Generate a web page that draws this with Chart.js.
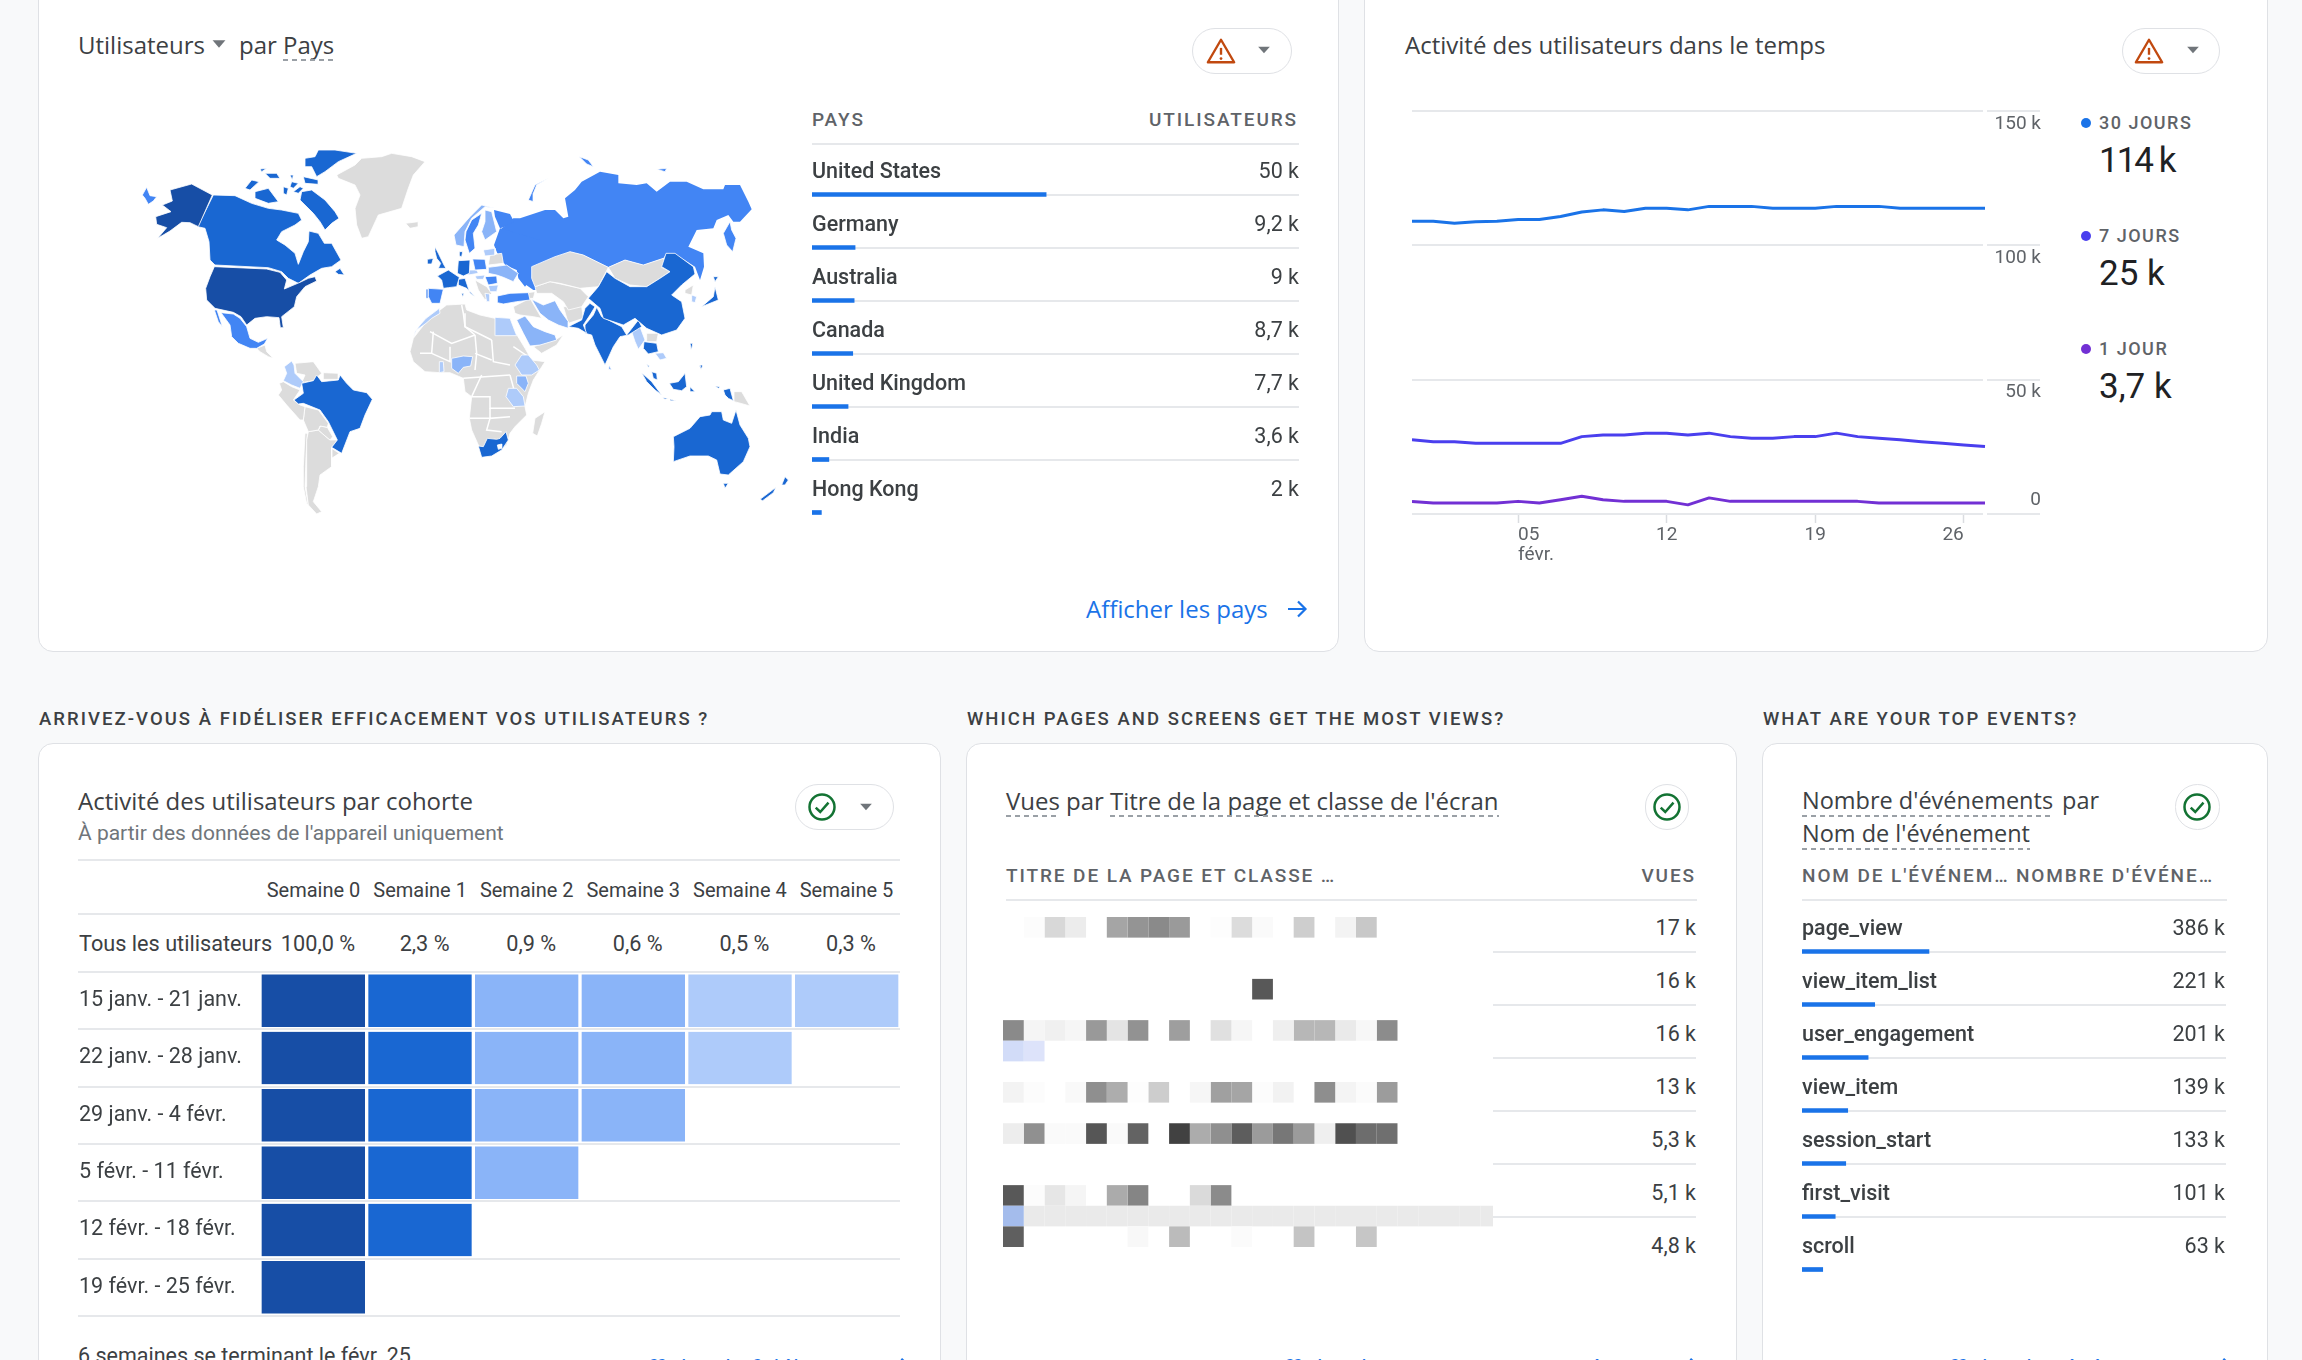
<!DOCTYPE html>
<html lang="fr">
<head>
<meta charset="utf-8">
<title>Rapports</title>
<script src="https://cdn.jsdelivr.net/npm/chart.js@4"></script>
<style>
  html, body { margin: 0; padding: 0; }
  body { position: relative; width: 2302px; height: 1360px; overflow: hidden; background: #f8f9fa; font-family: Roboto, sans-serif; color: #3c4043; }
  .card { position: absolute; box-sizing: border-box; background: #fff; border: 1.5px solid #dfe1e5; border-radius: 15px; }
  .txt { position: absolute; white-space: nowrap; line-height: 1; transform: translateY(-50%); }
  .rule { position: absolute; height: 2px; background: #e6e8eb; }
  .dash { position: absolute; height: 2px; background: repeating-linear-gradient(90deg, #9aa0a6 0 5px, transparent 5px 9px); }
  .pill { position: absolute; box-sizing: border-box; background: #fff; border: 1.5px solid #dfe1e5; border-radius: 24px; }
  canvas { position: absolute; }
  svg { position: absolute; }
</style>
</head>
<body>
<script>
// pays
const countries = ["United States", "Germany", "Australia", "Canada", "United Kingdom", "India", "Hong Kong"];
const countryUsers = [50, 9.2, 9, 8.7, 7.7, 3.6, 2];
const countryUserLabels = ["50 k", "9,2 k", "9 k", "8,7 k", "7,7 k", "3,6 k", "2 k"];
const countryScaleMax = 104;

// activite dans le temps
const days = ["31 janv.", "1 févr.", "2 févr.", "3 févr.", "4 févr.", "5 févr.", "6 févr.", "7 févr.", "8 févr.", "9 févr.", "10 févr.", "11 févr.", "12 févr.", "13 févr.", "14 févr.", "15 févr.", "16 févr.", "17 févr.", "18 févr.", "19 févr.", "20 févr.", "21 févr.", "22 févr.", "23 févr.", "24 févr.", "25 févr.", "26 févr.", "27 févr."];
const users30 = [109000, 109000, 108200, 108800, 109000, 109600, 109600, 110700, 112400, 113200, 112600, 113800, 113800, 113200, 114500, 114500, 114500, 113800, 113800, 113800, 114500, 114500, 114500, 113800, 113800, 113800, 113800, 113800];
const users7 = [27600, 26900, 26900, 26300, 26300, 26300, 26300, 26300, 28800, 29400, 29400, 30100, 30100, 29400, 30100, 28800, 28200, 28200, 28800, 28800, 30100, 28800, 28200, 27600, 26900, 26300, 25700, 25100];
const users1 = [4700, 4100, 4100, 4100, 4100, 4700, 4100, 5300, 6600, 5300, 4700, 4700, 4700, 3400, 6000, 4700, 4700, 4700, 4700, 4700, 4700, 4700, 4100, 4100, 4100, 4100, 4100, 4100];
const activityTicks = [0, 50000, 100000, 150000];
const activityTickLabels = ["0", "50 k", "100 k", "150 k"];
const dayTickIndexes = [5, 12, 19, 26];
const dayTickLabels = [["05", "févr."], "12", "19", "26"];
const legendNames = ["30 JOURS", "7 JOURS", "1 JOUR"];
const legendValues = ["114 k", "25 k", "3,7 k"];

// cohortes
const weeks = ["Semaine 0", "Semaine 1", "Semaine 2", "Semaine 3", "Semaine 4", "Semaine 5"];
const allUsersRetention = ["100,0 %", "2,3 %", "0,9 %", "0,6 %", "0,5 %", "0,3 %"];
const cohortLabels = ["15 janv. - 21 janv.", "22 janv. - 28 janv.", "29 janv. - 4 févr.", "5 févr. - 11 févr.", "12 févr. - 18 févr.", "19 févr. - 25 févr."];
const cohort0 = [100, 2.4, 0.9, 0.7, 0.4, 0.3];
const cohort1 = [100, 2.3, 0.9, 0.7, 0.4];
const cohort2 = [100, 2.3, 0.9, 0.7];
const cohort3 = [100, 2.2, 0.9];
const cohort4 = [100, 2.2];
const cohort5 = [100];

// vues par page
const viewLabels = ["17 k", "16 k", "16 k", "13 k", "5,3 k", "5,1 k", "4,8 k"];

// zone floutee : niveau de gris par case, 0 = vide
const mosaic0 = [0, 252, 216, 236, 0, 165, 148, 138, 154, 0, 253, 220, 250, 0, 206, 0, 243, 200];
const mosaic3 = [0, 0, 0, 0, 0, 0, 0, 0, 0, 0, 0, 0, 88];
const mosaic5 = [138, 245, 240, 246, 153, 228, 146, 0, 158, 0, 224, 246, 0, 239, 183, 183, 234, 247, 140];
const mosaic6 = [220, 227];
const mosaic8 = [243, 252, 0, 249, 143, 173, 253, 205, 0, 246, 160, 165, 252, 242, 0, 142, 244, 251, 156];
const mosaic10 = [237, 144, 250, 250, 86, 250, 99, 0, 65, 172, 143, 93, 155, 119, 155, 239, 80, 109, 111];
const mosaic13 = [88, 252, 230, 245, 0, 171, 133, 0, 0, 218, 139];
const mosaic14 = [188, 234, 234, 234, 234, 234, 234, 234, 234, 234, 234, 234, 234, 234, 234, 234, 234, 234, 234, 234, 234, 234, 234, 234];
const mosaic15 = [95, 0, 0, 0, 0, 0, 248, 0, 187, 0, 0, 251, 0, 0, 196, 0, 0, 198];
const mosaicRows = [mosaic0, [], [], mosaic3, [], mosaic5, mosaic6, [], mosaic8, [], mosaic10, [], [], mosaic13, mosaic14, mosaic15];

// evenements
const eventNames = ["page_view", "view_item_list", "user_engagement", "view_item", "session_start", "first_visit", "scroll"];
const eventCounts = [386, 221, 201, 139, 133, 101, 63];
const eventLabels = ["386 k", "221 k", "201 k", "139 k", "133 k", "101 k", "63 k"];
const eventScaleMax = 1289;

// carte : contours, [niveau, x, y, x, y...]
// niveau 0 sans donnees, 1 frontiere, 2 a 6 du plus clair au plus fonce, 7 trou, 8 Russie (sous les voisins)
const shapesAmericas = [
  [6, 232,150, 190,245, 165,233, 140,232, 105,258, 68,280, 95,248, 65,238, 62,215, 108,200, 82,180, 112,168, 105,135, 170,117],
  [4, 35,127, 45,152, 65,155, 55,168, 40,178, 30,160, 22,150],
  [5, 235,150, 300,152, 350,175, 400,190, 440,195, 490,205, 500,225, 480,240, 440,260, 425,285, 450,300, 480,325, 490,358, 505,320, 520,290, 522,258, 550,265, 568,295, 590,295, 618,345, 590,365, 560,370, 525,390, 490,415, 460,400, 440,380, 400,368, 240,360, 225,345, 222,290, 210,250, 188,245],
  [5, 600,380, 615,370, 628,390, 610,388],
  [5, 500,140, 530,135, 570,165, 600,200, 612,220, 590,235, 570,255, 555,230, 535,205, 510,180, 495,165],
  [5, 510,40, 540,35, 550,15, 600,15, 665,25, 610,50, 570,80, 545,95, 530,65, 510,65],
  [5, 360,140, 400,130, 430,170, 400,175, 360,160],
  [5, 330,130, 350,105, 372,110, 345,135],
  [5, 375,72, 395,70, 380,80],
  [5, 390,85, 425,85, 435,100, 405,100],
  [5, 470,110, 490,115, 475,130, 465,125],
  [5, 505,95, 550,105, 550,118, 510,115],
  [5, 465,90, 475,90, 472,105],
  [5, 445,125, 460,130, 455,150, 445,145],
  [5, 475,140, 495,125, 505,130, 490,145],
  [6, 238,365, 395,372, 435,382, 455,405, 448,432, 495,412, 520,400, 540,395, 545,408, 510,425, 485,455, 478,485, 440,515, 445,548, 436,548, 432,518, 395,515, 360,520, 335,540, 318,515, 295,502, 240,490, 215,465, 212,430, 225,395],
  [4, 258,503, 295,507, 315,520, 335,545, 345,580, 370,592, 398,580, 388,597, 365,610, 345,610, 310,595, 290,575, 285,540],
  [4, 238,495, 246,495, 262,545, 250,530],
  [0, 365,610, 390,600, 395,620, 415,640, 400,635, 375,620],
  [0, 605,90, 660,60, 680,40, 740,35, 770,25, 830,35, 870,50, 835,90, 820,130, 800,190, 730,210, 700,275, 680,280, 665,240, 660,190, 675,150, 660,120, 610,100],
  [0, 812,235, 850,230, 850,245, 825,250]
];
const shapesSouthAmerica = [
  [2, 125,63, 132,75, 135,100, 160,125, 150,145, 125,135, 100,122, 110,100, 103,80],
  [5, 132,180, 160,160, 155,130, 190,122, 200,105, 215,125, 265,120, 270,105, 290,130, 310,150, 350,158, 367,178, 345,225, 330,265, 300,275, 275,340, 245,322, 262,300, 235,245, 210,210, 160,190, 145,192],
  [0, 135,70, 190,65, 215,100, 190,122, 155,128, 165,105, 140,100],
  [0, 220,98, 265,100, 265,118, 220,118],
  [0, 88,130, 100,125, 125,140, 150,150, 130,180, 150,195, 165,200, 160,240, 150,240, 110,195, 85,165, 95,150],
  [0, 165,200, 205,210, 235,250, 232,262, 210,258, 205,270, 175,275, 160,240],
  [0, 205,270, 212,258, 232,262, 248,290, 240,300, 222,285],
  [0, 175,275, 205,270, 222,285, 240,300, 262,300, 245,322, 245,380, 210,405, 205,440, 190,485, 215,515, 200,522, 175,495, 168,440, 170,350, 170,300],
  [0, 165,280, 172,280, 168,350, 165,440, 175,495, 170,490, 160,440, 160,380],
  [0, 245,325, 268,340, 245,355]
];
const shapesEurope = [
  [5, 45,170, 55,190, 72,225, 78,235, 55,235, 62,220, 50,205, 45,185],
  [5, 22,208, 40,205, 35,222, 22,222],
  [5, 85,240, 118,262, 110,290, 85,293, 70,295, 65,270, 52,258],
  [5, 115,212, 150,210, 148,250, 130,258, 112,250],
  [4, 25,295, 70,298, 60,340, 35,340, 25,320],
  [4, 18,297, 25,297, 25,325, 18,325],
  [5, 115,268, 135,265, 150,310, 165,320, 160,315, 140,295, 115,285],
  [5, 125,310, 132,310, 128,322],
  [4, 158,207, 195,208, 200,238, 165,240],
  [3, 102,135, 150,80, 185,45, 225,55, 195,50, 155,85, 135,125, 132,170, 108,165],
  [4, 138,125, 155,90, 185,70, 175,105, 160,130, 165,175, 148,190, 135,150],
  [3, 195,60, 215,65, 230,125, 195,150, 185,125, 195,95],
  [5, 118,185, 128,185, 125,200, 118,198],
  [2, 140,240, 170,240, 175,250, 145,255],
  [2, 165,258, 195,255, 190,268, 170,268],
  [4, 195,260, 230,258, 232,280, 205,285],
  [3, 205,232, 260,225, 295,250, 280,275, 250,262, 230,255, 205,250],
  [0, 210,195, 245,190, 250,220, 205,225],
  [2, 190,180, 225,175, 225,195, 195,198],
  [0, 165,270, 200,290, 215,310, 195,330, 175,300],
  [2, 195,310, 210,312, 210,335, 200,335],
  [2, 205,287, 235,285, 230,305, 210,305],
  [4, 232,318, 270,310, 325,308, 330,330, 290,335, 250,342, 232,338],
  [8, 240,115, 222,165, 232,190, 250,205, 255,225, 290,240, 305,275, 340,300, 360,300, 360,150],
  [8, 222,60, 270,72, 282,95, 250,112, 240,115, 225,80]
];
const shapesAfrica = [
  [0, 75,100, 90,80, 120,60, 140,45, 195,42, 200,60, 240,75, 285,85, 330,85, 345,125, 375,175, 395,210, 435,215, 400,270, 385,310, 375,350, 380,375, 345,410, 330,430, 320,465, 285,490, 245,500, 235,465, 215,420, 208,385, 215,320, 195,305, 190,265, 150,248, 120,248, 75,245, 40,215, 30,185, 40,145],
  [0, 435,365, 425,400, 412,438, 398,430, 405,385],
  [0, 400,170, 465,150, 490,135, 470,165, 425,190],
  [1, 185,45, 190,70, 195,110, 225,135],
  [1, 195,70, 195,110, 275,150],
  [1, 225,135, 230,190, 225,240],
  [1, 275,150, 280,215, 330,225],
  [1, 90,125, 155,160, 225,135],
  [1, 100,125, 95,190, 60,190],
  [1, 95,190, 150,215, 150,170],
  [1, 225,190, 275,210],
  [1, 190,265, 330,255],
  [1, 245,255, 215,320],
  [1, 215,320, 270,320, 270,355, 345,355],
  [1, 208,385, 270,385, 260,420, 305,425],
  [1, 270,355, 270,385, 330,380],
  [1, 330,255, 345,310],
  [1, 340,170, 400,210],
  [2, 78,85, 118,55, 120,70, 95,85, 78,100, 50,120, 40,142, 45,125, 60,105],
  [2, 285,82, 330,85, 350,137, 287,137],
  [3, 350,90, 375,78, 400,110, 435,125, 465,135, 470,150, 420,165, 390,168, 370,130],
  [3, 395,28, 430,45, 465,32, 480,60, 505,95, 505,115, 475,105, 445,90, 420,70],
  [3, 155,205, 190,198, 218,200, 212,228, 190,232, 175,250, 155,235],
  [2, 118,215, 130,215, 132,245, 118,248],
  [2, 365,195, 385,195, 410,225, 418,240, 395,255, 365,255, 345,225],
  [3, 350,258, 378,258, 385,280, 375,305, 350,280],
  [2, 325,295, 350,295, 370,320, 375,348, 340,350, 318,320],
  [5, 262,445, 290,448, 300,445, 318,425, 325,450, 305,480, 275,498, 245,502, 235,468, 250,470],
  [7, 292,465, 305,462, 305,475, 295,478]
];
const shapesAsia = [
  [8, 0,240, 40,205, 60,205, 135,180, 165,180, 190,205, 205,200, 195,145, 225,120, 245,95, 300,65, 355,75, 355,100, 410,105, 440,100, 470,125, 510,95, 560,95, 610,118, 670,118, 675,105, 720,105, 745,155, 755,178, 720,215, 700,215, 685,195, 650,210, 640,235, 590,240, 565,290, 610,310, 612,350, 600,390, 585,350, 530,315, 500,310, 490,325, 430,345, 375,330, 325,352, 250,315, 210,305, 165,325, 100,350, 95,385, 75,410, 55,385, 50,355, 0,335],
  [4, 670,250, 690,215, 695,240, 708,265, 698,305, 680,285],
  [4, 85,150, 105,105, 145,85, 110,105, 100,130, 100,155],
  [4, 238,20, 265,30, 280,50, 260,42],
  [4, 470,58, 500,55, 495,65],
  [5, 320,365, 345,385, 390,410, 440,410, 480,385, 510,365, 485,350, 498,310, 525,310, 580,350, 585,372, 545,405, 515,435, 545,455, 555,505, 530,540, 485,555, 440,535, 405,505, 370,525, 310,505, 300,475, 265,445, 295,410],
  [0, 325,352, 375,330, 430,345, 490,325, 498,345, 485,352, 510,365, 480,385, 440,410, 390,405, 345,385],
  [0, 95,350, 165,320, 210,305, 250,315, 325,352, 295,410, 240,415, 180,400, 150,395, 105,410, 95,385],
  [0, 105,410, 150,395, 240,415, 265,440, 245,470, 205,480, 190,455, 155,430, 110,430],
  [5, 205,530, 245,510, 255,475, 270,460, 285,470, 270,495, 250,525, 260,550, 235,535],
  [5, 290,472, 305,500, 365,530, 380,555, 415,510, 425,530, 385,555, 360,560, 340,590, 315,645, 285,585, 275,555, 255,550, 255,525, 280,495],
  [3, 328,645, 335,660, 325,658],
  [2, 395,545, 420,530, 435,570, 415,598, 405,575],
  [5, 432,575, 470,580, 475,605, 445,612, 430,595],
  [0, 440,550, 475,550, 470,575, 440,575],
  [2, 465,610, 490,608, 500,625, 480,630],
  [5, 640,380, 655,380, 645,395],
  [5, 645,410, 655,450, 625,462, 605,470, 640,440],
  [2, 575,435, 590,440, 585,458, 575,455],
  [0, 555,420, 580,405, 575,435, 555,430],
  [5, 570,580, 578,580, 575,600],
  [5, 600,645, 608,645, 605,658],
  [0, 40,470, 90,445, 125,505, 100,500, 60,495, 45,490],
  [0, 190,470, 245,470, 250,505, 205,520],
  [0, 70,430, 105,425, 100,445, 75,445]
];
const shapesOceania = [
  [5, 190,320, 240,295, 270,260, 300,255, 305,245, 335,245, 340,270, 365,280, 378,240, 390,285, 415,325, 420,350, 400,395, 355,435, 330,432, 320,390, 295,378, 240,378, 190,395, 192,350],
  [5, 340,460, 355,460, 345,475],
  [5, 450,508, 498,472, 490,488, 458,512],
  [5, 515,465, 525,440, 535,450, 525,465],
  [5, 95,128, 125,155, 155,195, 135,180, 110,155],
  [5, 158,203, 175,205, 165,208],
  [5, 180,207, 198,213, 180,212],
  [5, 178,160, 205,155, 225,130, 230,170, 215,182, 190,178],
  [5, 240,170, 255,185, 240,185],
  [5, 315,168, 330,170, 325,175],
  [5, 340,180, 360,175, 370,212, 355,205, 345,195],
  [0, 372,185, 395,185, 420,228, 385,218, 372,215],
  [5, 240,40, 247,45, 243,60],
  [5, 268,105, 278,105, 272,118],
  [5, 125,125, 140,130, 142,150, 130,145],
  [5, 110,102, 118,108, 115,112]
];
const mapRegions = [
  [shapesAmericas, 135, 145],
  [shapesSouthAmerica, 250, 340],
  [shapesEurope, 420, 190],
  [shapesAfrica, 400, 290],
  [shapesAsia, 500, 150],
  [shapesOceania, 610, 330]
];
const mapColors = ["#dcdcdc", "#ffffff", "#aecbfa", "#8ab4f8", "#4285f4", "#1967d2", "#174ea6", "#ffffff", "#4285f4"];

const blue = "#1a73e8";
const lineBlue = "#1a73e8";
const lineIndigo = "#4a3fee";
const linePurple = "#7230d4";
const ruleColor = "#e6e8eb";
const tickColor = "#5f6368";

Chart.defaults.font.family = "Roboto, sans-serif";
Chart.defaults.animation = false;
Chart.defaults.responsive = false;
Chart.defaults.devicePixelRatio = 1;
Chart.defaults.plugins.legend.display = false;
Chart.defaults.plugins.tooltip.enabled = false;

function addCanvas(left, top, width, height) {
  const canvas = document.createElement("canvas");
  canvas.width = width;
  canvas.height = height;
  canvas.style.left = left + "px";
  canvas.style.top = top + "px";
  document.body.appendChild(canvas);
  return canvas;
}

function put(text, x, y, size, color, opts) {
  opts = opts || {};
  const el = document.createElement("div");
  el.className = "txt";
  el.textContent = text;
  el.style.top = y + "px";
  if (opts.right) el.style.right = (2302 - x) + "px";
  else el.style.left = x + "px";
  if (opts.center) el.style.transform = "translate(-50%, -50%)";
  el.style.fontSize = size + "px";
  el.style.color = color;
  if (opts.weight) el.style.fontWeight = opts.weight;
  if (opts.spacing) el.style.letterSpacing = opts.spacing + "px";
  if (opts.font) el.style.fontFamily = opts.font;
  document.body.appendChild(el);
}

function box(className, left, top, width, height) {
  const el = document.createElement("div");
  el.className = className;
  el.style.left = left + "px";
  el.style.top = top + "px";
  el.style.width = width + "px";
  if (height) el.style.height = height + "px";
  document.body.appendChild(el);
}

function rule(x1, x2, y) { box("rule", x1, y - 1, x2 - x1); }
function dash(x1, x2, y) { box("dash", x1, y - 1, x2 - x1); }

function drawSvg(left, top, size, inner) {
  document.body.insertAdjacentHTML("beforeend", '<svg style="left:' + left + 'px;top:' + top + 'px" width="' + size + '" height="' + size + '" viewBox="0 0 24 24" fill="none">' + inner + "</svg>");
}
const warnIcon = '<path d="M12 3 L22.5 21 H1.5 Z" stroke="#c1490f" stroke-width="1.9" stroke-linejoin="round"/><path d="M12 9.5 V15" stroke="#c1490f" stroke-width="1.9"/><circle cx="12" cy="18" r="1.1" fill="#c1490f"/>';
const okIcon = '<circle cx="12" cy="12" r="10" stroke="#137333" stroke-width="2"/><path d="M7 12.5 L10.6 16 L17.2 8.5" stroke="#137333" stroke-width="2"/>';
const caretIcon = '<path d="M5 8 H19 L12 16 Z" fill="#70757a"/>';
const arrowIcon = '<path d="M3 12 H20 M13 4.5 L20.5 12 L13 19.5" stroke="#1a73e8" stroke-width="2.2"/>';
const chevronIcon = '<path d="M8 4 L16 12 L8 20" stroke="#1a73e8" stroke-width="2.4"/>';

// sans ca l'axe vertical garde une marge pour ses libelles et tasse les lignes
function noScalePadding(axis) {
  axis.paddingTop = 0;
  axis.paddingBottom = 0;
  axis.paddingLeft = 0;
  axis.paddingRight = 0;
}

// cartes de fond
box("card", 38, -40, 1301, 692);
box("card", 1364, -40, 904, 692);
box("card", 38, 743, 903, 700);
box("card", 966, 743, 771, 700);
box("card", 1762, 743, 506, 700);

// carte Utilisateurs par Pays
const titleFont = "'Open Sans', Roboto, sans-serif";
const titleSize = 24;
put("Utilisateurs", 78, 45, titleSize, "#3c4043", { font: titleFont });
drawSvg(208, 33, 22, caretIcon);
put("par", 239, 45, titleSize, "#3c4043", { font: titleFont });
put("Pays", 283, 45, titleSize, "#3c4043", { font: titleFont });
dash(283, 334, 60);
box("pill", 1192, 28, 100, 46);
drawSvg(1206, 36, 30, warnIcon);
drawSvg(1254, 40, 20, caretIcon);

const mapDatasets = [];
mapRegions.forEach(function (region) {
  region[0].forEach(function (shape) {
    const points = [];
    for (let i = 1; i < shape.length; i += 2) {
      points.push({ x: region[1] + shape[i] / 3, y: region[2] + shape[i + 1] / 3 });
    }
    const isBorder = shape[0] === 1;
    if (!isBorder) points.push(points[0]);
    mapDatasets.push({
      level: shape[0] === 8 ? -1 : shape[0],
      data: points,
      borderColor: "#ffffff",
      borderWidth: isBorder ? 1.5 : (shape[0] === 8 ? 0 : 0.8),
      backgroundColor: mapColors[shape[0]],
      fill: isBorder ? false : "shape",
      pointRadius: 0,
      tension: 0
    });
  });
});
// Chart.js dessine le premier dataset en dernier
mapDatasets.sort(function (a, b) { return b.level - a.level; });

new Chart(addCanvas(130, 140, 670, 400), {
  type: "line",
  data: { datasets: mapDatasets },
  options: {
    layout: { padding: 0 },
    scales: {
      x: { type: "linear", display: false, min: 130, max: 800 },
      y: { type: "linear", display: false, min: 140, max: 540, reverse: true }
    }
  }
});

// tableau pays
const headStyle = { weight: 500, spacing: 1.9 };
put("PAYS", 812, 119, 19, tickColor, headStyle);
put("UTILISATEURS", 1298, 119, 19, tickColor, { weight: 500, spacing: 1.9, right: true });
rule(812, 1299, 144);

function rowBars(left, top, width, labels, values, max, rowHeight) {
  return new Chart(addCanvas(left, top, width, labels.length * rowHeight), {
    type: "bar",
    data: {
      labels: labels,
      datasets: [{ data: values, backgroundColor: blue, barThickness: 4 }]
    },
    options: {
      indexAxis: "y",
      layout: { padding: 0 },
      scales: {
        x: { display: false, min: 0, max: max },
        y: {
          border: { display: false },
          ticks: { display: false },
          grid: {
            offset: false,
            drawTicks: false,
            lineWidth: 2,
            color: function (ctx) { return ctx.index === labels.length - 1 ? "rgba(0,0,0,0)" : ruleColor; }
          }
        }
      }
    }
  });
}

rowBars(812, 168, 487, countries, countryUsers, countryScaleMax, 53);
countries.forEach(function (name, i) {
  put(name, 812, 171 + i * 53, 21.5, "#3c4043", { weight: 500 });
  put(countryUserLabels[i], 1299, 171 + i * 53, 21.5, "#3c4043", { right: true });
});
put("Afficher les pays", 1086, 609, 24, blue, { font: titleFont });
drawSvg(1285, 597, 24, arrowIcon);

// carte Activite des utilisateurs
put("Activité des utilisateurs dans le temps", 1405, 45, titleSize, "#3c4043", { font: titleFont });
box("pill", 2122, 28, 98, 46);
drawSvg(2134, 36, 30, warnIcon);
drawSvg(2183, 40, 20, caretIcon);

const activitySeries = [
  [users30, lineBlue],
  [users7, lineIndigo],
  [users1, linePurple]
];

new Chart(addCanvas(1412, 105, 630, 465), {
  type: "line",
  data: {
    labels: days,
    datasets: activitySeries.map(function (s) {
      return { data: s[0], borderColor: s[1], borderWidth: 3, pointRadius: 0, tension: 0, borderJoinStyle: "round" };
    })
  },
  options: {
    layout: { padding: { top: 6 }, autoPadding: false },
    scales: {
      x: {
        afterBuildTicks: function (axis) {
          axis.ticks = dayTickIndexes.map(function (v) { return { value: v }; });
        },
        afterFit: function (axis) {
          axis.height = 56;
          noScalePadding(axis);
        },
        border: { display: false },
        grid: { drawOnChartArea: false, tickLength: 9, tickColor: "#dadce0", tickWidth: 1.5 },
        ticks: {
          autoSkip: false,
          maxRotation: 0,
          padding: 2,
          color: tickColor,
          font: { size: 19, lineHeight: 1.05 },
          callback: function (value) { return dayTickLabels[dayTickIndexes.indexOf(value)]; }
        }
      },
      y: {
        position: "right",
        min: 0,
        max: 150000,
        afterBuildTicks: function (axis) {
          axis.ticks = activityTicks.map(function (v) { return { value: v }; });
        },
        afterFit: function (axis) {
          axis.width = 57;
          noScalePadding(axis);
        },
        border: { display: true, color: "#ffffff", width: 4 },
        grid: { color: "#e6e8eb", lineWidth: 2, tickLength: 55, tickColor: "#e6e8eb" },
        ticks: {
          padding: 0,
          color: tickColor,
          font: { size: 19 },
          callback: function (value) { return activityTickLabels[activityTicks.indexOf(value)]; }
        }
      }
    }
  },
  plugins: [{
    id: "tickPlacement",
    afterUpdate: function (chart) {
      const yScale = chart.scales.y;
      yScale.getLabelItems().forEach(function (item) {
        item.options.textAlign = "right";
        item.options.translation[0] = yScale.right - 1;
        item.options.translation[1] += item.label === "0" ? -14 : 13;
      });
      const xItems = chart.scales.x.getLabelItems();
      xItems[0].options.textAlign = "left";
      xItems[3].options.textAlign = "right";
    }
  }]
});

const legendColors = [lineBlue, lineIndigo, linePurple];
const legendTops = [123, 236, 349];
const legendValueSpacing = [-2, 0, 0];
legendNames.forEach(function (name, i) {
  const dot = document.createElement("div");
  dot.style.cssText = "position:absolute;width:10px;height:10px;border-radius:50%;left:2081px;top:" + (legendTops[i] - 5) + "px;background:" + legendColors[i];
  document.body.appendChild(dot);
  put(name, 2099, legendTops[i], 18, tickColor, { weight: 500, spacing: 1.5 });
  put(legendValues[i], 2099, legendTops[i] + 37, 35, "#202124", { spacing: legendValueSpacing[i] });
});

// titres de section
const sectionStyle = { weight: 500, spacing: 2.05 };
put("ARRIVEZ-VOUS À FIDÉLISER EFFICACEMENT VOS UTILISATEURS ?", 39, 719, 18.5, "#3c4043", sectionStyle);
put("WHICH PAGES AND SCREENS GET THE MOST VIEWS?", 967, 719, 18.5, "#3c4043", sectionStyle);
put("WHAT ARE YOUR TOP EVENTS?", 1763, 719, 18.5, "#3c4043", sectionStyle);

// cohortes
put("Activité des utilisateurs par cohorte", 78, 801, titleSize, "#3c4043", { font: titleFont });
put("À partir des données de l'appareil uniquement", 78, 833, 21, "#70757a");
box("pill", 795, 784, 99, 46);
drawSvg(807, 792, 30, okIcon);
drawSvg(856, 797, 20, caretIcon);
rule(78, 900, 860);
rule(78, 900, 914);
weeks.forEach(function (week, i) {
  put(week, 313.5 + i * 106.6, 890, 20, "#3c4043", { center: true });
  put(allUsersRetention[i], 318 + i * 106.6, 944, 21.7, "#3c4043", { center: true });
});
put("Tous les utilisateurs", 79, 944, 21.7, "#3c4043");

const cohortRows = [cohort0, cohort1, cohort2, cohort3, cohort4, cohort5];
function retentionColor(value) {
  if (value >= 50) return "#174ea6";
  if (value >= 1.5) return "#1967d2";
  if (value >= 0.6) return "#8ab4f8";
  return "#aecbfa";
}

new Chart(addCanvas(78, 970, 822, 348), {
  type: "bar",
  data: {
    labels: cohortLabels,
    datasets: weeks.map(function (week, w) {
      return {
        label: week,
        data: cohortRows.map(function (row) { return row[w] === undefined ? null : 1; }),
        backgroundColor: cohortRows.map(function (row) { return row[w] === undefined ? "#ffffff" : retentionColor(row[w]); }),
        borderColor: "#ffffff",
        borderWidth: { left: 2, right: 2, top: 0, bottom: 0 },
        borderSkipped: false,
        barThickness: 52.5
      };
    })
  },
  options: {
    indexAxis: "y",
    layout: { padding: { top: 2, bottom: 2 }, autoPadding: false },
    scales: {
      x: { display: false, stacked: true, min: 0, max: 6 },
      y: {
        stacked: true,
        afterFit: function (axis) {
          axis.width = 182;
          noScalePadding(axis);
        },
        border: { display: false },
        grid: { color: ruleColor, lineWidth: 2, tickLength: 182, tickColor: ruleColor },
        ticks: { padding: 0, color: "#3c4043", font: { size: 21.5 } }
      }
    }
  },
  plugins: [{
    id: "leftLabels",
    afterUpdate: function (chart) {
      const yScale = chart.scales.y;
      yScale.getLabelItems().forEach(function (item) {
        item.options.textAlign = "left";
        item.options.translation[0] = yScale.left + 1;
      });
    }
  }]
});

put("6 semaines se terminant le févr. 25", 78, 1356, 21.5, "#3c4043");
put("Afficher la fidélisation", 632, 1368, 24, blue, { font: titleFont });
drawSvg(894, 1355, 22, chevronIcon);

// vues par page
put("Vues", 1006, 801, titleSize, "#3c4043", { font: titleFont });
put("par", 1066, 801, titleSize, "#3c4043", { font: titleFont });
put("Titre de la page et classe de l'écran", 1110, 801, titleSize, "#3c4043", { font: titleFont });
dash(1006, 1060, 816);
dash(1110, 1499, 816);
box("pill", 1645, 784, 44, 46);
drawSvg(1652, 792, 30, okIcon);
put("TITRE DE LA PAGE ET CLASSE …", 1006, 875, 19, tickColor, headStyle);
put("VUES", 1696, 875, 19, tickColor, { weight: 500, spacing: 1.9, right: true });
rule(1006, 1697, 900);
viewLabels.forEach(function (label, i) {
  put(label, 1696, 927.6 + i * 53, 21.5, "#3c4043", { right: true });
  if (i < viewLabels.length - 1) rule(1493, 1696, 951.5 + i * 53);
});

const mosaicLabels = mosaicRows.map(function (row, i) { return "ligne " + i; });
const mosaicColumns = [];
for (let c = 0; c < 24; c++) mosaicColumns.push(c);
const mosaicTints = { "6:0": "#d2dcf8", "6:1": "#dde3fa", "14:0": "#a4bcec" };

new Chart(addCanvas(1003, 917, 490, 330), {
  type: "bar",
  data: {
    labels: mosaicLabels,
    datasets: mosaicColumns.map(function (c) {
      return {
        data: mosaicRows.map(function () { return 1; }),
        backgroundColor: mosaicRows.map(function (row, r) {
          if (mosaicTints[r + ":" + c]) return mosaicTints[r + ":" + c];
          const g = row[c];
          return g ? "rgb(" + g + "," + g + "," + g + ")" : "rgba(0,0,0,0)";
        }),
        barPercentage: 1,
        categoryPercentage: 1,
        inflateAmount: 0
      };
    })
  },
  options: {
    indexAxis: "y",
    layout: { padding: 0 },
    scales: {
      x: { display: false, stacked: true, min: 0, max: 23.6 },
      y: { display: false, stacked: true }
    }
  }
});

put("Afficher le rapport \"Pages et écrans\"", 1268, 1368, 24, blue, { font: titleFont });
drawSvg(1683, 1355, 22, chevronIcon);

// evenements
const eventTitleSize = 23.5;
put("Nombre d'événements", 1802, 801, eventTitleSize, "#3c4043", { font: titleFont });
put("par", 2062, 801, eventTitleSize, "#3c4043", { font: titleFont });
put("Nom de l'événement", 1802, 834, eventTitleSize, "#3c4043", { font: titleFont });
dash(1802, 2054, 816);
dash(1802, 2030, 849);
box("pill", 2175, 784, 45, 46);
drawSvg(2182, 792, 30, okIcon);
put("NOM DE L'ÉVÉNEM…", 1802, 875, 19, tickColor, headStyle);
put("NOMBRE D'ÉVÉNE…", 2214, 875, 19, tickColor, { weight: 500, spacing: 1.9, right: true });
rule(1802, 2227, 900);
rowBars(1802, 925, 424, eventNames, eventCounts, eventScaleMax, 53);
eventNames.forEach(function (name, i) {
  put(name, 1802, 927.6 + i * 53, 21.5, "#3c4043", { weight: 500 });
  put(eventLabels[i], 2225, 927.6 + i * 53, 21.5, "#3c4043", { right: true });
});
put("Afficher les événements", 1933, 1368, 24, blue, { font: titleFont });
drawSvg(2216, 1355, 22, chevronIcon);
</script>
</body>
</html>
